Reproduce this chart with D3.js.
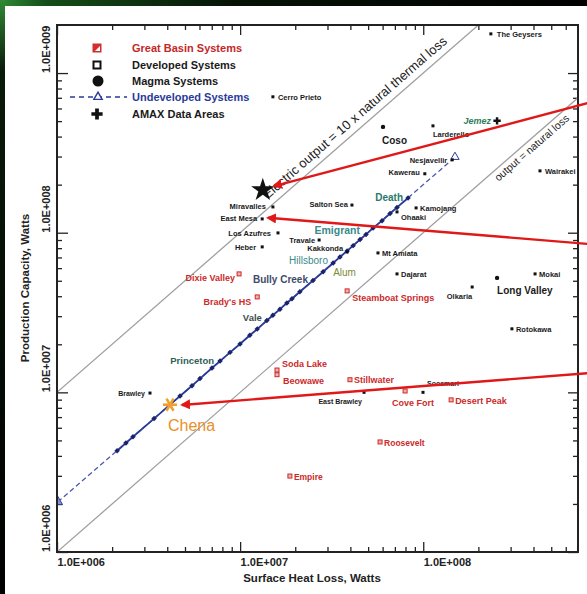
<!DOCTYPE html>
<html><head><meta charset="utf-8">
<script src="https://cdn.jsdelivr.net/npm/d3@7"></script>
<style>body{margin:0;background:#fff}svg{display:block;font-family:"Liberation Sans",Arial,sans-serif}</style>
</head><body><svg id="c" width="587" height="594"></svg>
<script>
// ---------------- DATA ----------------
const xDomain = [1e6, 7e8];
const yDomain = [1e6, 2e9];
const xMajorTicks = [1e6, 1e7, 1e8];
const xTickLabels = ["1.0E+006", "1.0E+007", "1.0E+008"];
const yMajorTicks = [1e6, 1e7, 1e8, 1e9];
const yTickLabels = ["1.0E+006", "1.0E+007", "1.0E+008", "1.0E+009"];
const xTitle = "Surface Heat Loss, Watts";
const yTitle = "Production Capacity, Watts";

const developedNames = ["The Geysers","Cerro Prieto","Larderello","Nesjavellir","Kawerau","Kamojang","Ohaaki","Wairakei","Salton Sea","Miravalles","East Mesa","Los Azufres","Heber","Travale","Kakkonda","Mt Amiata","Dajarat","Olkaria","Mokai","Rotokawa","Brawley","East Brawley","Soosmari"];
const developedX = [2.34e8,1.51e7,1.13e8,1.44e8,1.02e8,9.14e7,7.19e7,4.34e8,4.08e7,1.51e7,1.32e7,1.61e7,1.32e7,2.70e7,3.84e7,5.66e7,7.19e7,1.85e8,4.08e8,3.05e8,3.22e6,4.75e7,9.97e7];
const developedY = [1.76e9,7.1e8,4.67e8,2.86e8,2.34e8,1.43e8,1.35e8,2.44e8,1.49e8,1.45e8,1.22e8,9.97e7,8.15e7,9.0e7,7.58e7,7.47e7,5.52e7,4.57e7,5.52e7,2.5e7,9.9e6,1.0e7,1.0e7];

const magmaNames = ["Coso","Long Valley"];
const magmaX = [6.03e7, 2.53e8];
const magmaY = [4.6e8, 5.21e7];

const amaxNames = ["Jemez"];
const amaxX = [2.53e8];
const amaxY = [5.02e8];

const greatBasinNames = ["Dixie Valley","Brady's HS","Steamboat Springs","Soda Lake","Beowawe","Stillwater","Cove Fort","Desert Peak","Roosevelt","Empire"];
const greatBasinX = [9.87e6,1.24e7,3.84e7,1.59e7,1.59e7,3.98e7,7.96e7,1.42e8,5.81e7,1.87e7];
const greatBasinY = [5.52e7,3.96e7,4.32e7,1.38e7,1.29e7,1.2e7,1.02e7,8.97e6,4.89e6,2.99e6];

const undevX = [1.01e6,2.13e6,2.38e6,2.60e6,3.39e6,4.14e6,4.70e6,5.46e6,6.04e6,7.02e6,7.77e6,8.81e6,9.99e6,1.13e7,1.24e7,1.40e7,1.51e7,1.65e7,1.80e7,1.92e7,2.12e7,2.50e7,2.84e7,3.22e7,3.51e7,3.84e7,4.14e7,4.52e7,4.87e7,5.32e7,5.96e7,6.59e7,7.19e7,8.26e7,1.05e8,1.24e8,1.49e8];
const undevY = [2.06e6,4.31e6,4.82e6,5.27e6,6.85e6,8.37e6,9.49e6,1.10e7,1.22e7,1.42e7,1.57e7,1.78e7,2.01e7,2.28e7,2.49e7,2.82e7,3.04e7,3.32e7,3.63e7,3.86e7,4.27e7,5.02e7,5.69e7,6.46e7,7.05e7,7.69e7,8.30e7,9.06e7,9.76e7,1.07e8,1.19e8,1.32e8,1.44e8,1.65e8,2.10e8,2.47e8,2.98e8];
const undevNames = ["","","","","","Chena","","","","","Princeton","","","","","Vale","","","","","","Bully Creek","Alum","","Hillsboro","","","","Emigrant","","","","","Death","","",""];

const starX = [1.33e7];
const starY = [1.85e8];

const refFactors = [1, 10];
const refLabels = ["output = natural loss", "Electric output = 10 x natural thermal loss"];

const arrowFromX = 8.0e8;
const arrowFromY = [6.5e8, 8.5e7, 1.32e7];
const arrowToX = [1.53e7, 1.42e7, 4.82e6];
const arrowToY = [1.96e8, 1.24e8, 8.34e6];

const legendLabels = ["Great Basin Systems","Developed Systems","Magma Systems","Undeveloped Systems","AMAX Data Areas"];

// ---------------- LAYOUT (label placement / styles) ----------------
// name: [dx, dy, anchor, size, color, weight]
const BLK = "#1a1a1a", RED = "#cc2a2a";
const labelLayout = {
  "The Geysers":[6,3,"start",7.5,BLK,"bold"],
  "Cerro Prieto":[5,3,"start",7.5,BLK,"bold"],
  "Larderello":[0,11,"start",7.5,BLK,"bold"],
  "Nesjavellir":[-5,3,"end",7.5,BLK,"bold"],
  "Kawerau":[-5,1,"end",7.5,BLK,"bold"],
  "Kamojang":[4,3,"start",7.5,BLK,"bold"],
  "Ohaaki":[4,8,"start",7.5,BLK,"bold"],
  "Wairakei":[5,3,"start",7.5,BLK,"bold"],
  "Salton Sea":[-4,2,"end",7.5,BLK,"bold"],
  "Miravalles":[-7,2,"end",7.5,BLK,"bold"],
  "East Mesa":[-5,2,"end",7.5,BLK,"bold"],
  "Los Azufres":[-7,3,"end",7.5,BLK,"bold"],
  "Heber":[-6,3,"end",7.5,BLK,"bold"],
  "Travale":[-4,3,"end",7.5,BLK,"bold"],
  "Kakkonda":[-4,-1,"end",7.5,BLK,"bold"],
  "Mt Amiata":[4,3,"start",7.5,BLK,"bold"],
  "Dajarat":[4,3,"start",7.5,BLK,"bold"],
  "Olkaria":[0,12,"end",7.5,BLK,"bold"],
  "Mokai":[4,3,"start",7.5,BLK,"bold"],
  "Rotokawa":[4,3,"start",7.5,BLK,"bold"],
  "Brawley":[-5,3,"end",7,BLK,"bold"],
  "East Brawley":[-2,12,"end",7,BLK,"bold"],
  "Soosmari":[4,-6,"start",7,BLK,"bold"],
  "Coso":[-1,17,"start",10,BLK,"bold"],
  "Long Valley":[0,16,"start",10,BLK,"bold"],
  "Jemez":[-6,3,"end",9,"#2e7d5b","bold"],
  "Dixie Valley":[-4,7,"end",9,RED,"bold"],
  "Brady's HS":[-6,8,"end",9,RED,"bold"],
  "Steamboat Springs":[5,10,"start",9,RED,"bold"],
  "Soda Lake":[5,-3,"start",9,RED,"bold"],
  "Beowawe":[6,9,"start",9,RED,"bold"],
  "Stillwater":[4,3,"start",9,RED,"bold"],
  "Cove Fort":[8,15,"middle",9,RED,"bold"],
  "Desert Peak":[4,4,"start",9,RED,"bold"],
  "Roosevelt":[4,4,"start",8.5,RED,"bold"],
  "Empire":[4,4,"start",8.5,RED,"bold"],
  "Chena":[-2,26,"start",16,"#e8902a","normal"],
  "Princeton":[-6,3,"end",9.5,"#2f5f55","bold"],
  "Vale":[-5,1,"end",9.5,"#3f4f4f","bold"],
  "Bully Creek":[-5,3,"end",10,"#3d4a6a","bold"],
  "Alum":[10,4,"start",10,"#7d8a3a","normal"],
  "Hillsboro":[-12,7,"end",10,"#3a8a8a","normal"],
  "Emigrant":[-6,0,"end",10.5,"#3a8a8a","bold"],
  "Death":[-5,3,"end",10,"#2a7a6a","bold"]
};

// ---------------- DRAW ----------------
const svg = d3.select("#c");
const W = 587, H = 594;
const L = 57, R = 578, T = 25, B = 552;
const x = d3.scaleLog().domain(xDomain).range([L, R]);
const y = d3.scaleLog().domain(yDomain).range([B, T]);

const defs = svg.append("defs");
const tg = defs.append("linearGradient").attr("id","tb").attr("x1",0).attr("x2",1).attr("y1",0).attr("y2",0);
tg.append("stop").attr("offset","0").attr("stop-color","#2f8a35");
tg.append("stop").attr("offset","0.08").attr("stop-color","#154d18");
tg.append("stop").attr("offset","0.4").attr("stop-color","#061206");
tg.append("stop").attr("offset","1").attr("stop-color","#000");
const lg = defs.append("linearGradient").attr("id","lb").attr("x1",0).attr("x2",0).attr("y1",0).attr("y2",1);
lg.append("stop").attr("offset","0").attr("stop-color","#2f8a35");
lg.append("stop").attr("offset","0.12").attr("stop-color","#0a1a0a");
lg.append("stop").attr("offset","1").attr("stop-color","#000");
defs.append("clipPath").attr("id","plot").append("rect").attr("x",L).attr("y",T).attr("width",R-L).attr("height",B-T);
defs.append("marker").attr("id","ah").attr("viewBox","0 0 10 10").attr("refX",8).attr("refY",5)
  .attr("markerWidth",4.2).attr("markerHeight",4.2).attr("orient","auto")
  .append("path").attr("d","M0,0 L10,5 L0,10 z").attr("fill","#e01818");

svg.append("rect").attr("width",W).attr("height",H).attr("fill","#fff");
svg.append("rect").attr("x",0).attr("y",0).attr("width",W).attr("height",6).attr("fill","url(#tb)");
svg.append("rect").attr("x",0).attr("y",0).attr("width",5).attr("height",H).attr("fill","url(#lb)");

// minor ticks
function minorTicks(dom){const out=[];for(let e=Math.floor(Math.log10(dom[0]));e<=Math.ceil(Math.log10(dom[1]));e++)for(let k=2;k<=9;k++){const v=k*Math.pow(10,e);if(v>dom[0]&&v<dom[1])out.push(v);}return out;}
const xMinor = minorTicks(xDomain), yMinor = minorTicks(yDomain);
const tickStyle = g => { g.select(".domain").remove(); g.selectAll("line").attr("stroke","#222").attr("stroke-width",1.3); };

svg.append("g").attr("transform",`translate(0,${B})`).call(d3.axisBottom(x).tickValues(xMinor).tickSize(-5).tickFormat("")).call(tickStyle);
svg.append("g").attr("transform",`translate(0,${B})`).call(d3.axisBottom(x).tickValues(xMajorTicks).tickSize(-10).tickPadding(6).tickFormat((d,i)=>xTickLabels[i])).call(tickStyle)
  .call(g=>g.selectAll("text").attr("text-anchor","start").attr("font-size",11).attr("font-weight","bold").attr("fill","#222").attr("font-family","Liberation Sans, Arial"));
svg.append("g").attr("transform",`translate(0,${T})`).call(d3.axisTop(x).tickValues(xMinor).tickSize(-5).tickFormat("")).call(tickStyle);
svg.append("g").attr("transform",`translate(0,${T})`).call(d3.axisTop(x).tickValues(xMajorTicks).tickSize(-10).tickFormat("")).call(tickStyle);
svg.append("g").attr("transform",`translate(${L},0)`).call(d3.axisLeft(y).tickValues(yMinor).tickSize(-5).tickFormat("")).call(tickStyle);
svg.append("g").attr("transform",`translate(${L},0)`).call(d3.axisLeft(y).tickValues(yMajorTicks).tickSize(-11).tickFormat("")).call(tickStyle);
svg.append("g").attr("transform",`translate(${R},0)`).call(d3.axisRight(y).tickValues(yMinor).tickSize(-5).tickFormat("")).call(tickStyle);
svg.append("g").attr("transform",`translate(${R},0)`).call(d3.axisRight(y).tickValues(yMajorTicks).tickSize(-10).tickFormat("")).call(tickStyle);

// y tick labels rotated
svg.append("g").selectAll("text").data(yMajorTicks).join("text")
  .attr("transform",d=>`translate(50,${y(d)}) rotate(-90)`)
  .attr("text-anchor","start").attr("font-size",11).attr("font-weight","bold").attr("fill","#222")
  .text((d,i)=>yTickLabels[i]);

// titles
svg.append("text").attr("x",312).attr("y",582).attr("text-anchor","middle").attr("font-size",11.5).attr("font-weight","bold").attr("fill","#222").text(xTitle);
svg.append("text").attr("transform","translate(29,288) rotate(-90)").attr("text-anchor","middle").attr("font-size",11.5).attr("font-weight","bold").attr("fill","#222").text(yTitle);

const plot = svg.append("g").attr("clip-path","url(#plot)");

// reference lines
const ang = -Math.atan2(y(1e6)-y(1e7), x(1e7)-x(1e6))*180/Math.PI;
refFactors.forEach((f)=>{
  const xs = [xDomain[0], xDomain[1]];
  plot.append("line").attr("x1",x(xs[0])).attr("y1",y(xs[0]*f)).attr("x2",x(xs[1])).attr("y2",y(xs[1]*f))
    .attr("stroke","#a0a0a0").attr("stroke-width",1.3);
});
// line labels
const refLabelPos = [[2.35e8, 11, 10.5], [1.50e7, -7, 13]];
refFactors.forEach((f,i)=>{
  const [xv, dy, fs] = refLabelPos[i];
  plot.append("text").attr("transform",`translate(${x(xv)},${y(xv*f)}) rotate(${ang})`)
    .attr("dy",dy).attr("font-size",fs).attr("fill","#222").text(refLabels[i]);
});

// undeveloped series
const undev = undevX.map((v,i)=>({x:v,y:undevY[i],name:undevNames[i]}));
const line = d3.line().x(d=>x(d.x)).y(d=>y(d.y));
plot.append("path").datum(undev).attr("d",line).attr("fill","none").attr("stroke","#4a5ab0").attr("stroke-width",1.3).attr("stroke-dasharray","5,3");
plot.append("path").datum(undev.slice(1,34)).attr("d",line).attr("fill","none").attr("stroke","#2a3a9a").attr("stroke-width",1.8);
plot.append("g").selectAll("path").data(undev.slice(1,34)).join("path")
  .attr("transform",d=>`translate(${x(d.x)},${y(d.y)}) rotate(45)`)
  .attr("d",d3.symbol(d3.symbolSquare,15)).attr("fill","#1a2466");
[undev[0], undev[undev.length-1]].forEach((d,i)=>{
  plot.append("path").attr("transform",`translate(${x(d.x)},${y(d.y)})`)
    .attr("d",d3.symbol(d3.symbolTriangle, i===0?40:30))
    .attr("fill",i===0?"#8f8fd0":"#fff").attr("stroke","#2a3a9a").attr("stroke-width",1);
});

// developed
plot.append("g").selectAll("rect").data(developedX).join("rect")
  .attr("x",(d)=>x(d)-1.5).attr("y",(d,i)=>y(developedY[i])-1.5).attr("width",3).attr("height",3).attr("fill","#111");
// magma
plot.append("g").selectAll("circle").data(magmaX).join("circle")
  .attr("cx",d=>x(d)).attr("cy",(d,i)=>y(magmaY[i])).attr("r",2.2).attr("fill","#111");
// amax
plot.append("g").selectAll("path").data(amaxX).join("path")
  .attr("transform",(d,i)=>`translate(${x(d)},${y(amaxY[i])})`).attr("d",d3.symbol(d3.symbolCross,30)).attr("fill","#111");
// great basin
plot.append("g").selectAll("rect").data(greatBasinX).join("rect")
  .attr("x",d=>x(d)-2).attr("y",(d,i)=>y(greatBasinY[i])-2).attr("width",4).attr("height",4)
  .attr("fill","#f3b0b0").attr("stroke","#cc2a2a").attr("stroke-width",1);

// Chena asterisk
const ch = undev[5];
const chg = plot.append("g").attr("transform",`translate(${x(ch.x)},${y(ch.y)})`);
[0,60,120].forEach(a=>chg.append("line").attr("x1",-7).attr("x2",7).attr("transform",`rotate(${a})`).attr("stroke","#f0a030").attr("stroke-width",2.6));
// big star
plot.append("g").selectAll("path").data(starX).join("path")
  .attr("transform",(d,i)=>`translate(${x(d)},${y(starY[i])})`).attr("d",d3.symbol(d3.symbolStar,170)).attr("fill","#111");

// labels
const labeled = [];
developedNames.forEach((n,i)=>labeled.push({n,x:developedX[i],y:developedY[i]}));
magmaNames.forEach((n,i)=>labeled.push({n,x:magmaX[i],y:magmaY[i]}));
amaxNames.forEach((n,i)=>labeled.push({n,x:amaxX[i],y:amaxY[i]}));
greatBasinNames.forEach((n,i)=>labeled.push({n,x:greatBasinX[i],y:greatBasinY[i]}));
undev.forEach(d=>{ if(d.name) labeled.push({n:d.name,x:d.x,y:d.y}); });
plot.append("g").selectAll("text").data(labeled).join("text")
  .attr("x",d=>x(d.x)+labelLayout[d.n][0]).attr("y",d=>y(d.y)+labelLayout[d.n][1])
  .attr("text-anchor",d=>labelLayout[d.n][2]).attr("font-size",d=>labelLayout[d.n][3])
  .attr("fill",d=>labelLayout[d.n][4]).attr("font-weight",d=>labelLayout[d.n][5])
  .attr("font-style",d=>d.n==="Jemez"?"italic":"normal")
  .text(d=>d.n);

// frame
svg.append("rect").attr("x",L).attr("y",T).attr("width",R-L).attr("height",B-T).attr("fill","none").attr("stroke","#222").attr("stroke-width",2);

// legend
const lgd = svg.append("g");
const ly = [48,65,81,97,114], lx = 97, tx = 132;
const lcol = ["#c42828","#1a1a1a","#1a1a1a","#2a3a9a","#1a1a1a"];
lgd.append("rect").attr("x",lx-4.5).attr("y",ly[0]-4.5).attr("width",9).attr("height",9).attr("fill","#d03030");
lgd.append("path").attr("d",`M${lx-2},${ly[0]+3} L${lx+3},${ly[0]-2} L${lx+3},${ly[0]+3} Z`).attr("fill","#fff");
lgd.append("rect").attr("x",lx-3.5).attr("y",ly[1]-3.5).attr("width",7).attr("height",7).attr("fill","none").attr("stroke","#111").attr("stroke-width",2);
lgd.append("circle").attr("cx",lx+1).attr("cy",ly[2]).attr("r",5.5).attr("fill","#111");
lgd.append("line").attr("x1",70).attr("x2",127).attr("y1",ly[3]).attr("y2",ly[3]).attr("stroke","#2a3a9a").attr("stroke-width",1.3).attr("stroke-dasharray","5,4");
lgd.append("path").attr("transform",`translate(${lx+1},${ly[3]})`).attr("d",d3.symbol(d3.symbolTriangle,30)).attr("fill","#fff").attr("stroke","#2a3a9a").attr("stroke-width",1.4);
lgd.append("path").attr("transform",`translate(${lx},${ly[4]})`).attr("d",d3.symbol(d3.symbolCross,70)).attr("fill","#111");
lgd.selectAll("text").data(legendLabels).join("text").attr("x",tx).attr("y",(d,i)=>ly[i]+4)
  .attr("font-size",11).attr("font-weight","bold").attr("fill",(d,i)=>lcol[i]).text(d=>d);

// arrows
svg.append("g").selectAll("line").data(arrowFromY).join("line")
  .attr("x1",x(arrowFromX)).attr("y1",d=>y(d)).attr("x2",(d,i)=>x(arrowToX[i])).attr("y2",(d,i)=>y(arrowToY[i]))
  .attr("stroke","#e01818").attr("stroke-width",2.4).attr("marker-end","url(#ah)");
</script></body></html>
